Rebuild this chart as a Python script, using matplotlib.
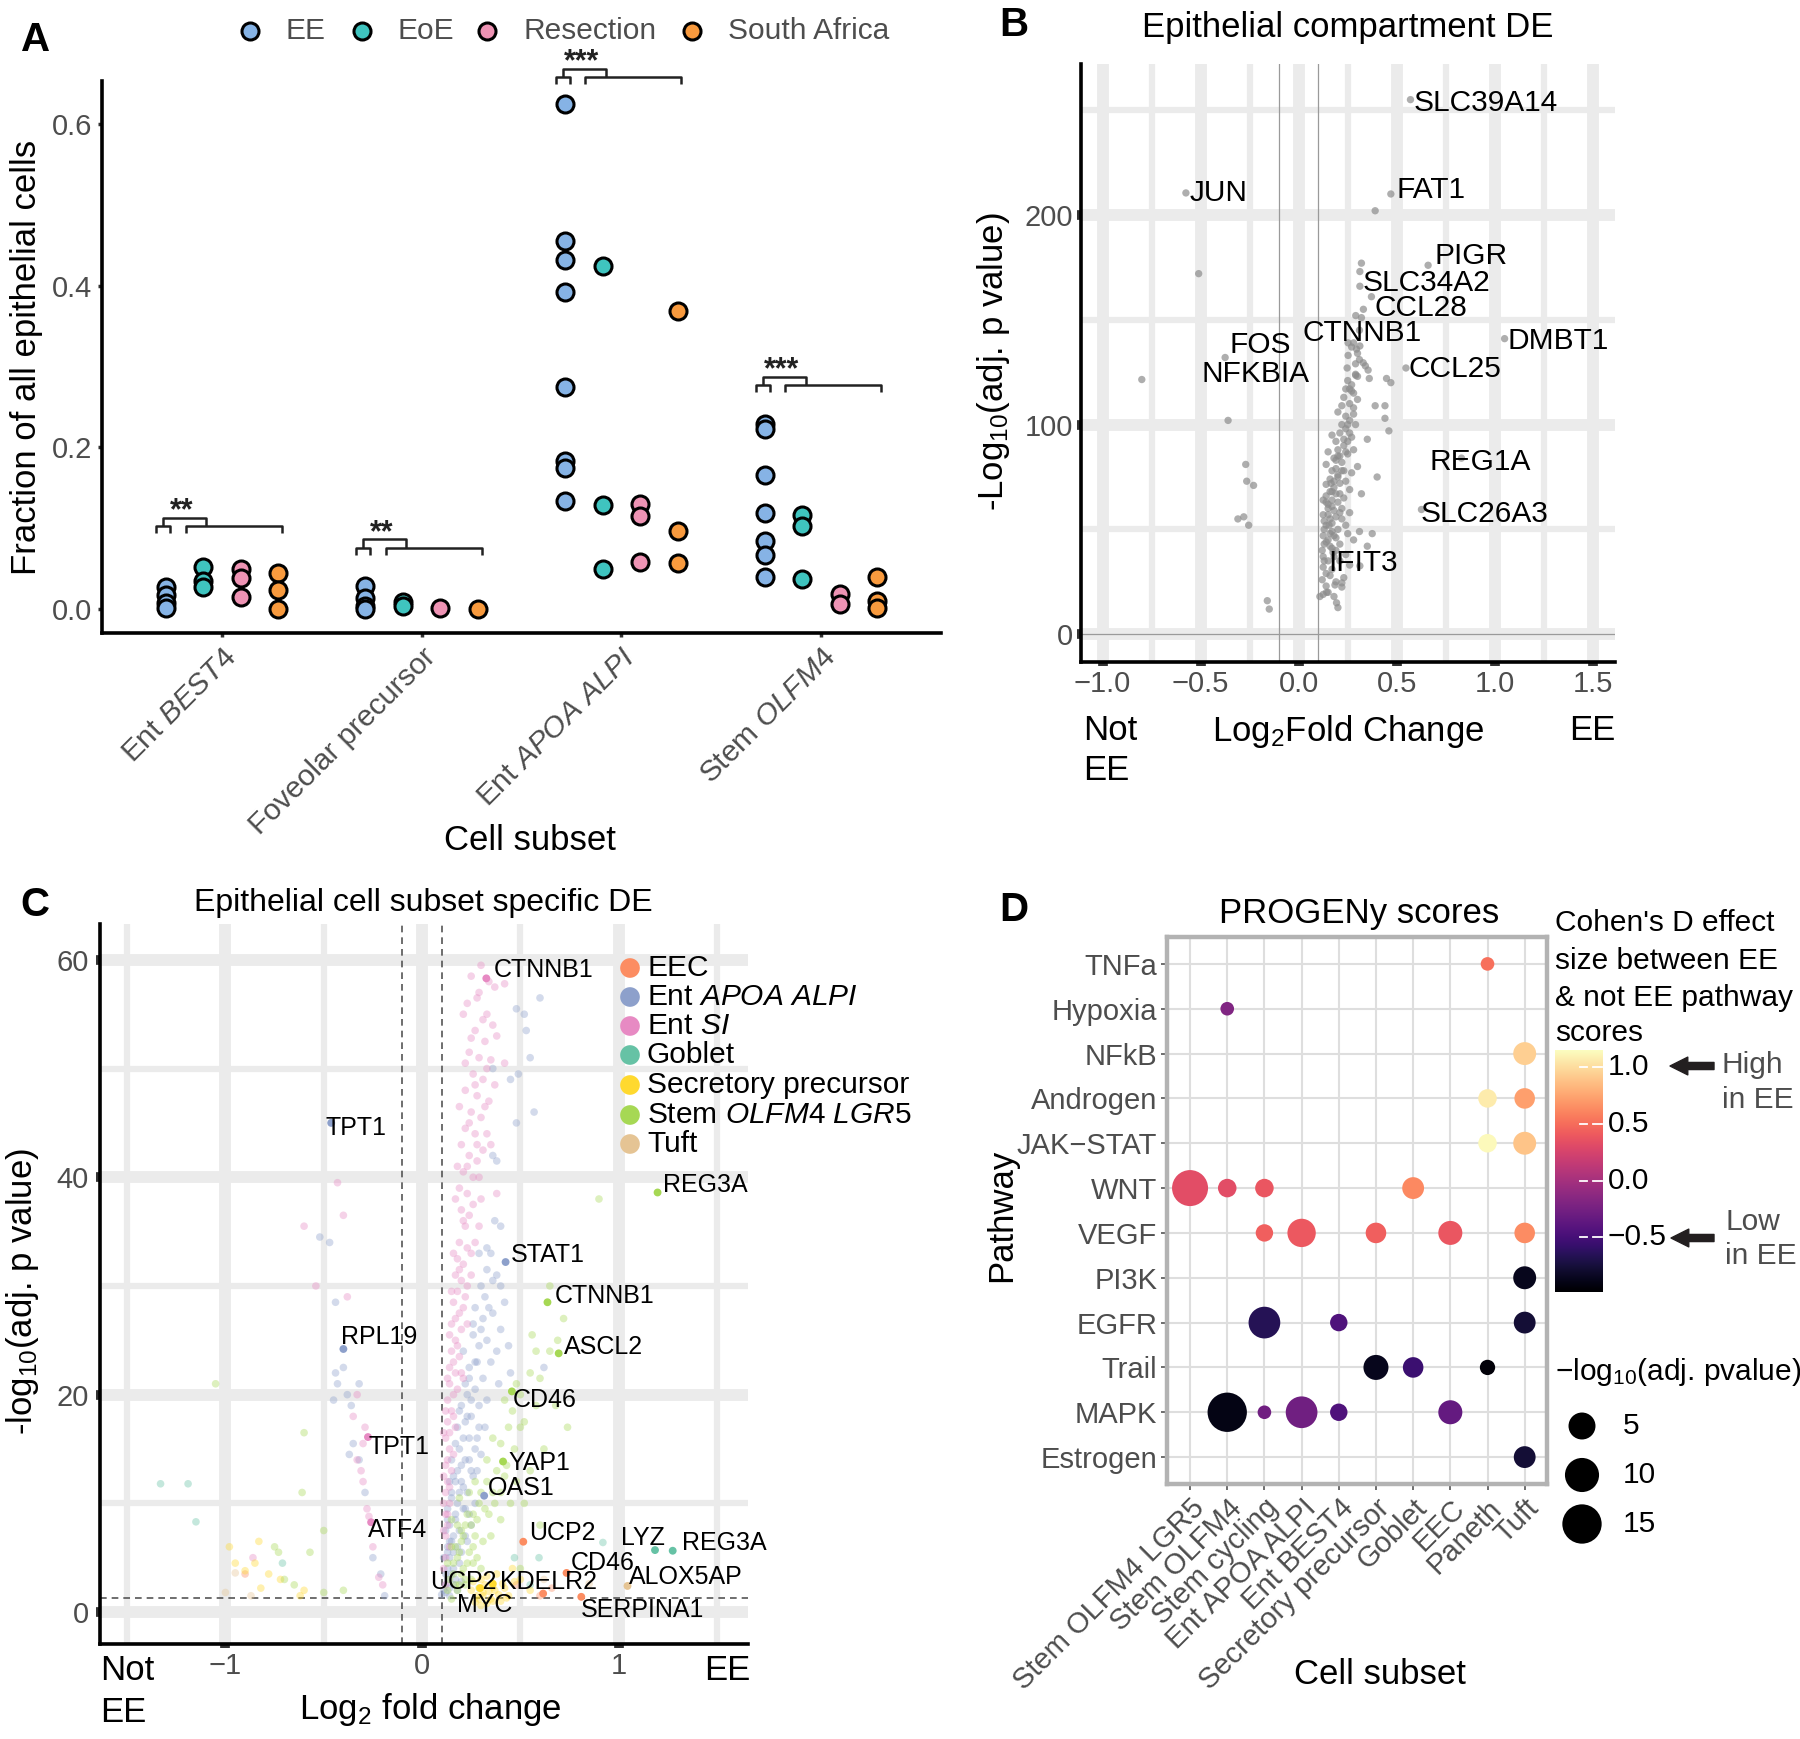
import numpy as np
import matplotlib
matplotlib.use('Agg')
import matplotlib.pyplot as plt
from matplotlib import colors as mcolors

plt.rcParams['font.family'] = ['Liberation Sans', 'DejaVu Sans']
plt.rcParams['mathtext.fontset'] = 'custom'
plt.rcParams['mathtext.rm'] = 'Liberation Sans'
plt.rcParams['mathtext.it'] = 'Liberation Sans:italic'
plt.rcParams['mathtext.bf'] = 'Liberation Sans:bold'
plt.rcParams['mathtext.sf'] = 'Liberation Sans'

# ---------------------------------------------------------------- data A
a_subset_labels = ['Ent $\\mathit{BEST4}$', 'Foveolar precursor',
                   'Ent $\\mathit{APOA\\ ALPI}$', 'Stem $\\mathit{OLFM4}$']
a_groups = ['EE', 'EoE', 'Resection', 'South Africa']
a_colors = ['#86B3E5', '#3FC4BF', '#EE93B4', '#F89A3E']
a_ee = [[0.027, 0.017, 0.008, 0.001], [0.029, 0.013, 0.004, 0.0],
        [0.624, 0.455, 0.432, 0.392, 0.275, 0.183, 0.174, 0.133],
        [0.229, 0.223, 0.166, 0.119, 0.084, 0.067, 0.039]]
a_eoe = [[0.052, 0.035, 0.027], [0.009, 0.004], [0.424, 0.129, 0.049], [0.116, 0.103, 0.037]]
a_res = [[0.050, 0.038, 0.015], [0.001], [0.130, 0.115, 0.058], [0.019, 0.006]]
a_sa = [[0.045, 0.023, 0.0], [0.0], [0.368, 0.097, 0.057], [0.039, 0.010, 0.001]]
a_sig = ['**', '**', '***', '***']
a_sig_y = [0.1026, 0.0758, 0.658, 0.277]

# ---------------------------------------------------------------- data B
b_x = [0.57, 0.47, 0.39, -0.575, -0.51, 0.66, 0.32, 0.312, 0.312, 0.371, 0.291, 0.32,
       1.05, -0.375, -0.80, 0.547, 0.83, 0.626, -0.36, -0.27, -0.265, -0.23, -0.31,
       -0.28, -0.255, -0.16, -0.15, 0.252, 0.295, 0.312, 0.252, 0.329, 0.354, 0.247,
       0.291, 0.448, 0.26, 0.34, 0.30, 0.36, 0.47, 0.24, 0.28, 0.22, 0.28, 0.39, 0.44,
       0.44, 0.46, 0.20, 0.22, 0.25, 0.29, 0.35, 0.17, 0.19, 0.15, 0.18, 0.24, 0.30,
       0.40, 0.14, 0.17, 0.20, 0.24, 0.14, 0.17, 0.21, 0.26, 0.32, 0.125, 0.15, 0.18,
       0.22, 0.26, 0.125, 0.14, 0.17, 0.19, 0.25, 0.31, 0.375, 0.125, 0.13, 0.17, 0.21,
       0.28, 0.35, 0.125, 0.15, 0.18, 0.24, 0.125, 0.14, 0.17, 0.312, 0.19, 0.125, 0.15,
       0.22, 0.20, 0.16, 0.19, 0.20, 0.23, 0.18, 0.21, 0.16, 0.19, 0.22, 0.20, 0.23,
       0.25, 0.21, 0.24, 0.26, 0.23, 0.27, 0.25, 0.29, 0.30, 0.27, 0.31, 0.33, 0.28,
       0.26, 0.28, 0.27, 0.15, 0.14, 0.13, 0.15, 0.17, 0.20, 0.22, 0.24, 0.19, 0.21,
       0.16, 0.14, 0.18, 0.23, 0.26, 0.12, 0.13, 0.12, 0.108, 0.142, 0.185, 0.22, 0.193,
       0.16, 0.18, 0.21, 0.17, 0.19, 0.155, 0.165, 0.2, 0.23, 0.175,
       0.14, 0.16, 0.13, 0.15, 0.17, 0.14, 0.16, 0.18, 0.2, 0.22, 0.19, 0.21, 0.23,
       0.25, 0.27, 0.24, 0.26, 0.28, 0.3, 0.27, 0.29, 0.31]
b_y = [255, 210, 202, 210.5, 172, 176, 177, 173, 166, 161, 152, 151,
       141, 132, 121.5, 127, 84, 59.5, 102, 81, 73, 71, 55,
       56, 52, 16, 12, 139, 136, 137.5, 133, 129.5, 126, 127,
       123.5, 122, 117, 128, 123, 122, 120, 117, 115, 109, 108, 109, 109,
       103, 97, 106, 100, 100, 100, 93, 95, 92, 87, 84, 87, 80,
       75, 81, 78, 75, 73, 71.5, 68, 67, 69, 67, 64, 62, 59,
       60, 58, 57, 52, 49, 46, 48, 49, 48, 47, 43, 41, 43,
       45, 42, 37, 35, 37, 38, 32, 29, 31, 32.6, 25, 19, 20,
       22.5, 12.7, 55, 56, 63, 65, 70, 72, 74, 79, 82, 88, 90,
       92, 96, 104, 110, 113, 119, 121, 129, 134, 137, 145, 155, 139,
       96, 88, 77, 60, 66, 50, 45, 53, 50, 55, 52, 40, 35,
       28, 23, 18, 27, 33, 40, 35, 26, 18, 20, 23.5, 24.5, 15,
       42, 47, 58, 64, 67, 52, 72, 85, 78, 39,
       44, 48, 54, 57, 61, 63, 68, 73, 76, 78, 83, 85, 93,
       86, 94, 98, 102, 105, 112, 116, 124, 131]
b_lab = ['SLC39A14', 'FAT1', 'JUN', 'PIGR', 'SLC34A2', 'CCL28', 'CTNNB1', 'DMBT1',
         'FOS', 'NFKBIA', 'CCL25', 'REG1A', 'SLC26A3', 'IFIT3']
b_lab_x = [0.57, 0.47, -0.575, 0.66, 0.312, 0.371, 0.291, 1.05, -0.375, -0.80, 0.547, 0.83, 0.626, 0.312]
b_lab_y = [255, 210, 210.5, 176, 166, 161, 152, 141, 132, 121.5, 127, 84, 59.5, 32.6]
b_lab_off = [(3, -3), (6, 4), (4, 0), (6, 9), (3, 3), (3, -11), (-53, -17), (3, -2),
             (4, 13), (60, 6), (3, -1), (-32, -4), (-1, -4), (-32, 3)]

# ---------------------------------------------------------------- data C
c_groups = ['EEC', 'Ent APOA ALPI', 'Ent SI', 'Goblet', 'Secretory precursor', 'Stem OLFM4 LGR5', 'Tuft']
c_group_labels = ['EEC', 'Ent $\\mathit{APOA\\ ALPI}$', 'Ent $\\mathit{SI}$', 'Goblet',
                  'Secretory precursor', 'Stem $\\mathit{OLFM4\\ LGR5}$', 'Tuft']
c_colors = ['#FC8D62', '#8DA0CB', '#E78AC3', '#66C2A5', '#FFD92F', '#A6D854', '#E5C494']
c_eec_x = [-0.9, 0.6, 0.48, 0.66]
c_eec_y = [3.5, 1.5, 2.5, 2.2]
c_apoa_x = [0.52, 0.53, 0.6, 0.45, 0.57, 0.48, 0.36, 0.38, 0.4, 0.35, 0.38, 0.4, 0.42, 0.36,
            0.3, 0.33, 0.38, 0.45, 0.62, 0.28, 0.31, 0.27, 0.33, 0.25, 0.29, 0.24, 0.27, 0.22,
            0.25, 0.2, 0.23, 0.18, 0.21, 0.17, 0.19, 0.15, 0.18, 0.14, 0.16, 0.13, 0.16, 0.22,
            0.24, 0.26, 0.3, 0.29, 0.23, 0.35, 0.32, 0.37,
            0.11, 0.12, 0.11, 0.13, 0.12, 0.14, 0.13, 0.15, 0.14, 0.16, 0.15, 0.17, 0.18, 0.19,
            0.2, 0.22, 0.24, 0.21, 0.26, 0.27, 0.3, 0.33, 0.29, 0.1, 0.12, 0.14, 0.17, 0.19,
            0.2, 0.23, 0.25, 0.27, 0.21, 0.18, 0.24, 0.28, 0.22,
            0.13, 0.14, 0.16, 0.13, 0.17, 0.15, 0.19, 0.17, 0.2, 0.19, 0.21, 0.23, 0.25, 0.24,
            0.27, 0.29, 0.26, 0.31, 0.34, 0.33, 0.36, 0.4, 0.44, 0.39, 0.32, 0.28, 0.22, 0.12,
            0.15, 0.18, 0.14, 0.2, 0.13, 0.16, 0.49, 0.55, 0.36, 0.48,
            -0.52, -0.47, -0.44, -0.44, -0.43, -0.4, -0.45, -0.38, -0.36, -0.32, -0.37, -0.35,
            -0.32, -0.29, -0.25, -0.21, -0.19]
c_apoa_y = [55, 53.5, 56.5, 49, 46, 45, 42, 41.5, 35.5, 33, 31, 30, 28.5, 27.5,
            26, 25, 24, 22, 22.5, 23, 21.5, 20.5, 19.5, 18, 17, 16, 15, 14,
            13, 12, 11, 10, 9.5, 8.5, 7.5, 6.5, 6, 5, 4, 3, 2.5, 7,
            9, 12.5, 14.5, 19, 20, 23, 29, 36,
            2, 3.5, 5, 6, 7.5, 8, 9.5, 10.5, 12, 12.5, 14, 15.5, 17, 18.5,
            19, 21, 22.5, 24, 25.5, 28, 30, 31.5, 33, 1.6, 1.8, 2.2, 3, 4.5,
            5.5, 6.5, 8, 10, 11.5, 13, 14, 16, 17.5,
            4, 6.5, 7, 8.5, 9, 11, 11, 12, 13.5, 15, 16, 18, 19.5, 21.5,
            23, 24.5, 26.5, 27, 28, 33.5, 30.5, 26, 24.5, 21, 17, 13, 9.5, 2.5,
            3.5, 2, 1.5, 2.8, 5.5, 5.5, 49.5, 51, 50, 55.5,
            34.5, 34, 28.5, 22, 21, 22.5, 19.5, 20, 19, 21, 14.5, 15.5,
            14, 11, 5, 3.5, 1.5]
c_si_x = [0.3, 0.37, 0.42, 0.23, 0.28, 0.33, 0.36, 0.27, 0.32, 0.24, 0.29, 0.35, 0.42, 0.26,
          0.31, 0.22, 0.28, 0.34, 0.37, 0.25, 0.3, 0.22, 0.27, 0.33, 0.2, 0.24, 0.28, 0.31,
          0.21, 0.26, 0.19, 0.23, 0.3, 0.38, 0.2, 0.24, 0.22, 0.19, 0.23, 0.27, 0.18, 0.21,
          0.17, 0.2, 0.25, 0.18, 0.22, 0.16, 0.19, 0.15, 0.2, 0.17, 0.15, 0.19, 0.14, 0.17,
          0.21, 0.14, 0.16, 0.13, 0.15, 0.13, 0.17, 0.12, 0.14, 0.16, 0.12, 0.15, 0.13, 0.12,
          0.14, 0.12, 0.13, 0.12, 0.14,
          0.25, 0.34, 0.29, 0.21, 0.31, 0.38, 0.25, 0.22, 0.33, 0.27, 0.19, 0.32, 0.24, 0.28,
          0.35, 0.18, 0.23, 0.29, 0.17, 0.26, 0.21, 0.29, 0.16, 0.25, 0.19, 0.23, 0.15, 0.21,
          0.17, 0.23, 0.14, 0.18, 0.16, 0.2, 0.13, 0.18, 0.12, 0.16, 0.11, 0.14, 0.13, 0.11,
          0.14, 0.11, 0.13, 0.11, 0.12, 0.11, 0.12,
          -0.6, -0.43, -0.4, -0.38, -0.54, -0.33, -0.35, -0.3, -0.33, -0.31, -0.3, -0.28,
          -0.27, -0.25, -0.22, -0.2, -0.86, -0.29]
c_si_y = [59.5, 57.5, 57.8, 56, 56.5, 55, 54, 53.5, 52.5, 51.5, 51, 50.8, 50.5, 49.5,
          49, 48, 47.5, 47, 48.5, 46, 45.5, 44.5, 44, 44, 43, 42, 41.5, 42.5,
          40.5, 40, 39, 38.5, 38, 38.5, 37, 36.5, 35.5, 34, 33.5, 34, 32.5, 32,
          31, 30.5, 31, 29.5, 29, 28.5, 27.5, 26.5, 26, 25, 24, 23.5, 22.5, 22,
          21.5, 21, 20, 19.5, 18.5, 17.5, 17, 16, 15, 14.5, 13.5, 13, 12, 11,
          10, 9, 8, 7, 6,
          58.5, 58, 57, 55, 54.5, 53, 52.8, 50.5, 50, 48.5, 46.5, 46.5, 45, 43,
          43, 41, 41, 40, 38, 37.5, 36, 35.5, 33, 33, 31.5, 30, 29.5, 28,
          27, 26.5, 25.5, 24.5, 23, 22, 21.5, 20.5, 18.5, 18, 16.5, 16.5, 14, 12.5,
          11.5, 10, 9, 7.5, 5, 4, 2.5,
          35.5, 39.5, 36.5, 29, 30, 20, 18, 15.5, 14, 13, 12, 9.5,
          8.8, 6, 3.2, 2.5, 5, 17]
c_gob_x = [-1.33, -1.19, -1.15, -0.71, 0.47, 0.595, 0.92, 0.55]
c_gob_y = [11.8, 11.8, 8.3, 4.5, 5.0, 5.0, 6.4, 2.5]
c_sec_x = [-0.98, -0.83, -0.85, -0.9, -0.78, -0.72, -0.82, -0.6, -0.62, -0.95, 0.25, 0.28,
           0.32, 0.35, 0.3, 0.38, 0.42, 0.46, 0.5, 0.55, 0.27, 0.33, 0.4, 0.37, 0.44, 0.31,
           0.29, 0.31, 0.34, 0.36, 0.39, 0.41, 0.43, 0.47, 0.26, 0.33, 0.36, 0.3]
c_sec_y = [6, 6.5, 4.5, 3.8, 3.5, 3, 2.2, 2, 1.5, 4.5, 2, 1.5,
           2.5, 1.2, 3, 3.5, 2.2, 4, 3, 2, 0.9, 0.8, 1.0, 2.0, 1.5, 1.8,
           1.2, 1.5, 1.9, 2.3, 1.6, 2.6, 1.3, 2.8, 2.8, 3.3, 1.0, 0.6]
c_stem_x = [0.9, 0.65, 0.72, 0.69, 0.58, 0.55, 0.6, 0.48, 0.5, 0.42, 0.46, 0.52, 0.68, 0.74,
            0.44, 0.4, 0.47, 0.38, 0.42, 0.33, 0.36, 0.29, 0.32, 0.26, 0.22, 0.27, 0.2, 0.24,
            0.18, 0.21, 0.16, 0.19, 0.13, 0.15, 0.25, 0.3, 0.35, 0.4, 0.45, 0.55, 0.5, 0.6,
            0.17, 0.2, 0.23, 0.28, 0.31, 0.19, 0.22, 0.26, 0.15, 0.18, 0.24,
            0.17, 0.2, 0.22, 0.14, 0.16, 0.19, 0.23, 0.26, 0.21, 0.18, 0.25, 0.28, 0.3, 0.34,
            0.37, 0.27, 0.33, 0.4, 0.43, 0.48, 0.52, 0.36, 0.5, 0.58, 0.62, 0.56, 0.65, 0.15,
            0.13, 0.29,
            -1.05, -0.6, -0.61, -0.5, -0.57, -0.73, -0.75, -0.7, -0.4, -0.5, -0.65]
c_stem_y = [38, 30, 27, 25, 24, 22, 21.5, 21, 20, 19.5, 18.5, 17.5, 19, 17,
            17, 15.5, 15, 13, 12.5, 12, 11, 10, 9.5, 9, 8, 7, 6.5, 5.5,
            5, 4, 3.5, 2.5, 2, 1.2, 3, 4, 7, 8.5, 10, 13, 4, 8,
            6, 7.5, 9, 5, 6.5, 10.5, 3, 4.5, 8.5, 2, 11,
            2.5, 3.5, 2.5, 3, 4.5, 5.5, 4.5, 6, 7, 8, 8, 8.5, 11, 9,
            10, 12, 14, 11, 13.5, 12, 10, 16, 17, 19, 15, 25.5, 24, 6,
            4.5, 2.2,
            21, 16.5, 11, 7.5, 5.5, 5.5, 6, 3, 2, 1.8, 2.5]
c_tuft_x = [-0.95, -1.0, -0.87, 0.85, 0.62]
c_tuft_y = [3.6, 1.8, 1.5, 2.6, 3.0]
c_lab = ['CTNNB1', 'TPT1', 'REG3A', 'STAT1', 'CTNNB1', 'RPL19', 'ASCL2', 'CD46', 'TPT1',
         'YAP1', 'OAS1', 'ATF4', 'UCP2', 'LYZ', 'REG3A', 'CD46', 'ALOX5AP', 'UCP2',
         'KDELR2', 'MYC', 'SERPINA1']
c_lab_grp = [2, 1, 5, 1, 5, 1, 5, 5, 2, 5, 1, 2, 0, 3, 3, 0, 6, 4, 0, 4, 0]
c_lab_x = [0.327, -0.462, 1.198, 0.425, 0.638, -0.40, 0.695, 0.457, -0.275, 0.412, 0.316,
           -0.259, 0.515, 1.185, 1.275, 0.735, 1.045, 0.36, 0.616, 0.295, 0.81]
c_lab_y = [58.3, 45.0, 38.6, 32.2, 28.5, 24.2, 23.8, 20.3, 16.1, 13.85, 10.7, 8.26, 6.47,
           5.7, 5.64, 3.6, 2.4, 2.6, 1.7, 2.2, 1.4]
c_lab_off = [(7, 8), (-6, -5), (5, 7), (5, 7), (7, 6), (-2, 12), (5, 6), (1, -9), (1, -10),
             (5, -1), (4, 8), (-3, -8), (6, 9), (-34, 12), (9, 8), (4, 10), (1, 9), (-63, 2),
             (-43, 12), (-23, -17), (0, -13)]

# ---------------------------------------------------------------- data D
d_rows = ['TNFa', 'Hypoxia', 'NFkB', 'Androgen', 'JAK\u2212STAT', 'WNT', 'VEGF', 'PI3K',
          'EGFR', 'Trail', 'MAPK', 'Estrogen']
d_cols = ['Stem OLFM4 LGR5', 'Stem OLFM4', 'Stem cycling', 'Ent APOA ALPI', 'Ent BEST4',
          'Secretory precursor', 'Goblet', 'EEC', 'Paneth', 'Tuft']
d_path = ['TNFa', 'Hypoxia', 'NFkB', 'Androgen', 'Androgen', 'JAK\u2212STAT', 'JAK\u2212STAT',
          'WNT', 'WNT', 'WNT', 'WNT', 'VEGF', 'VEGF', 'VEGF', 'VEGF', 'VEGF', 'PI3K',
          'EGFR', 'EGFR', 'EGFR', 'Trail', 'Trail', 'Trail', 'MAPK', 'MAPK', 'MAPK', 'MAPK',
          'MAPK', 'Estrogen']
d_cell = ['Paneth', 'Stem OLFM4', 'Tuft', 'Paneth', 'Tuft', 'Paneth', 'Tuft',
          'Stem OLFM4 LGR5', 'Stem OLFM4', 'Stem cycling', 'Goblet', 'Stem cycling',
          'Ent APOA ALPI', 'Secretory precursor', 'EEC', 'Tuft', 'Tuft',
          'Stem cycling', 'Ent BEST4', 'Tuft', 'Secretory precursor', 'Goblet', 'Paneth',
          'Stem OLFM4', 'Stem cycling', 'Ent APOA ALPI', 'Ent BEST4', 'EEC', 'Tuft']
d_effect = [0.51, -0.19, 0.94, 1.06, 0.72, 1.13, 0.89, 0.32, 0.32, 0.38, 0.62, 0.43, 0.40,
            0.43, 0.38, 0.64, -0.87, -0.66, -0.45, -0.77, -0.87, -0.55, -0.94, -0.9, -0.28,
            -0.28, -0.45, -0.34, -0.77]
d_logp = [1.3, 1.3, 3.1, 1.8, 2.3, 1.8, 3.1, 11.7, 1.8, 1.8, 2.7, 1.6, 5.8, 2.3, 3.55, 2.3,
          3.1, 8.1, 1.6, 2.7, 4.0, 2.3, 1.36, 15.0, 1.3, 8.1, 1.6, 3.55, 2.7]
d_size_breaks = [5, 10, 15]
d_cbar_ticks = [1.0, 0.5, 0.0, -0.5]

# ================================================================= figure
W, H = 1800, 1739
fig = plt.figure(figsize=(W / 100, H / 100), dpi=100)
TXT = '#4D4D4D'


def rect(l, t, r, b):
    return [l / W, 1 - b / H, (r - l) / W, (b - t) / H]


def style_axes(ax, lw=2.6):
    for s in ['top', 'right']:
        ax.spines[s].set_visible(False)
    for s in ['left', 'bottom']:
        ax.spines[s].set_linewidth(lw)
        ax.spines[s].set_color('black')


# ---------------------------------------------------------------- panel A
ax_a = fig.add_axes(rect(102, 81, 941, 633))
style_axes(ax_a)
ax_a.set_xlim(0.4, 4.6)
ax_a.set_ylim(-0.0297, 0.653)
offs = [-0.281, -0.094, 0.094, 0.281]
for gi, vals in enumerate([a_ee, a_eoe, a_res, a_sa]):
    for si, v in enumerate(vals):
        ax_a.scatter(np.full(len(v), si + 1 + offs[gi]), v, s=150, c=a_colors[gi],
                     edgecolors='black', linewidths=2.2, zorder=3, clip_on=False)
for si in range(4):
    c = si + 1
    yb = a_sig_y[si]
    tk = 0.009
    yt = yb + 0.0103
    kw = dict(color='#222222', lw=1.8, clip_on=False, solid_capstyle='butt')
    ax_a.plot([c - 0.328, c - 0.328, c - 0.258, c - 0.258], [yb - tk, yb, yb, yb - tk], **kw)
    ax_a.plot([c - 0.18, c - 0.18, c + 0.30, c + 0.30], [yb - tk, yb, yb, yb - tk], **kw)
    ax_a.plot([c - 0.293, c - 0.293, c - 0.078, c - 0.078], [yb, yt, yt, yb], **kw)
    ax_a.text(c - 0.2, yb + 0.0085, a_sig[si], ha='center', va='baseline', fontsize=22,
              fontweight='bold', color='#222222', clip_on=False)
ax_a.set_yticks([0, 0.2, 0.4, 0.6])
ax_a.set_yticklabels(['0.0', '0.2', '0.4', '0.6'], fontsize=21, color=TXT)
ax_a.set_xticks([1, 2, 3, 4])
ax_a.set_xticklabels(a_subset_labels, rotation=45, ha='right', va='top',
                     rotation_mode='anchor', fontsize=21.5, color=TXT)
ax_a.tick_params(axis='both', length=3, width=2.5, color='#333333', pad=4)

# ---------------------------------------------------------------- panel B
ax_b = fig.add_axes(rect(1081, 64, 1615, 661.5))
style_axes(ax_b)
ax_b.set_xlim(-1.11, 1.613)
ax_b.set_ylim(-13, 272)
GRID = '#EBEBEB'
for v in [-1, -0.5, 0, 0.5, 1, 1.5]:
    ax_b.axvline(v, color=GRID, lw=8.5, zorder=0)
for v in [-0.75, -0.25, 0.25, 0.75, 1.25]:
    ax_b.axvline(v, color=GRID, lw=4.5, zorder=0)
for v in [0, 100, 200]:
    ax_b.axhline(v, color=GRID, lw=8.5, zorder=0)
for v in [50, 150, 250]:
    ax_b.axhline(v, color=GRID, lw=4.5, zorder=0)
ax_b.axvline(-0.1, color='#9A9A9A', lw=0.9, zorder=1)
ax_b.axvline(0.1, color='#9A9A9A', lw=0.9, zorder=1)
ax_b.axhline(0, color='#9A9A9A', lw=0.9, zorder=1)
ax_b.scatter(b_x, b_y, s=28, c='#8C8C8C', alpha=0.7, edgecolors='none', zorder=2)
for name, x, y, off in zip(b_lab, b_lab_x, b_lab_y, b_lab_off):
    ax_b.annotate(name, (x, y), xytext=off, textcoords='offset pixels', ha='left',
                  va='center', fontsize=21.5, color='black', zorder=4)
ax_b.set_xticks([-1, -0.5, 0, 0.5, 1, 1.5])
ax_b.set_xticklabels(['\u22121.0', '\u22120.5', '0.0', '0.5', '1.0', '1.5'], fontsize=21, color=TXT)
ax_b.set_yticks([0, 100, 200])
ax_b.set_yticklabels(['0', '100', '200'], fontsize=21, color=TXT)
ax_b.tick_params(axis='both', length=3, width=7, color='#333333', pad=3)

# ---------------------------------------------------------------- panel C
ax_c = fig.add_axes(rect(100, 924, 748, 1644))
style_axes(ax_c)
ax_c.set_xlim(-1.638, 1.658)
ax_c.set_ylim(-2.94, 63.3)
for v in [-1, 0, 1]:
    ax_c.axvline(v, color=GRID, lw=8.5, zorder=0)
for v in [-1.5, -0.5, 0.5, 1.5]:
    ax_c.axvline(v, color=GRID, lw=4.5, zorder=0)
for v in [0, 20, 40, 60]:
    ax_c.axhline(v, color=GRID, lw=8.5, zorder=0)
for v in [10, 30, 50]:
    ax_c.axhline(v, color=GRID, lw=4.5, zorder=0)
dkw = dict(color='#555555', lw=1.2, dashes=(4, 3), zorder=1)
ax_c.axvline(-0.1, **dkw)
ax_c.axvline(0.1, **dkw)
ax_c.axhline(-np.log10(0.05), **dkw)
c_xs = [c_eec_x, c_apoa_x, c_si_x, c_gob_x, c_sec_x, c_stem_x, c_tuft_x]
c_ys = [c_eec_y, c_apoa_y, c_si_y, c_gob_y, c_sec_y, c_stem_y, c_tuft_y]
for gi in range(7):
    ax_c.scatter(c_xs[gi], c_ys[gi], s=30, c=c_colors[gi], alpha=0.38, edgecolors='none', zorder=2)
for name, g, x, y, off in zip(c_lab, c_lab_grp, c_lab_x, c_lab_y, c_lab_off):
    ax_c.scatter([x], [y], s=32, c=c_colors[g], edgecolors='none', zorder=3)
    ax_c.annotate(name, (x, y), xytext=off, textcoords='offset pixels', ha='left',
                  va='center', fontsize=18, color='black', zorder=4)
ax_c.set_xticks([-1, 0, 1])
ax_c.set_xticklabels(['\u22121', '0', '1'], fontsize=21, color=TXT)
ax_c.set_yticks([0, 20, 40, 60])
ax_c.set_yticklabels(['0', '20', '40', '60'], fontsize=21, color=TXT)
ax_c.tick_params(axis='both', length=3, width=7, color='#333333', pad=3)
ax_c.tick_params(axis='y', pad=5)

# ---------------------------------------------------------------- panel D
ax_d = fig.add_axes(rect(1167, 937, 1547, 1484))
ax_d.set_xlim(0.38, 10.6)
ax_d.set_ylim(12.6, 0.4)
for s in ax_d.spines.values():
    s.set_color('#B3B3B3')
    s.set_linewidth(3.2)
for i in range(1, 13):
    ax_d.axhline(i, color='#DEDEDE', lw=1.5, zorder=0)
for i in range(1, 11):
    ax_d.axvline(i, color='#DEDEDE', lw=1.5, zorder=0)
VMIN, VMAX = -0.98, 1.15
cmap = plt.get_cmap('magma')
norm = mcolors.Normalize(VMIN, VMAX)


def dot_size(v):
    v = np.asarray(v, dtype=float)
    d = 9.8 + 20 * np.sqrt(np.clip((v - 1.3) / 16.0, 0, 1))
    return d ** 2


dx = [d_cols.index(c) + 1 for c in d_cell]
dy = [d_rows.index(p) + 1 for p in d_path]
ax_d.scatter(dx, dy, s=dot_size(d_logp), c=d_effect, cmap=cmap, norm=norm,
             edgecolors='none', zorder=3)
ax_d.set_yticks(range(1, 13))
ax_d.set_yticklabels(d_rows, fontsize=21, color=TXT)
ax_d.set_xticks(range(1, 11))
ax_d.set_xticklabels(d_cols, rotation=45, ha='right', va='top', rotation_mode='anchor',
                     fontsize=21, color=TXT)
ax_d.tick_params(axis='both', length=4, width=1.2, color='#555555', pad=3)

# colorbar
cax = fig.add_axes(rect(1555, 1050, 1603, 1292))
grad = np.linspace(VMIN, VMAX, 256).reshape(-1, 1)
cax.imshow(grad, cmap=cmap, norm=norm, aspect='auto', origin='lower',
           extent=[0, 1, VMIN, VMAX])
cax.set_xlim(0, 1)
cax.set_ylim(VMIN, VMAX)
cax.axis('off')
for t in d_cbar_ticks:
    cax.plot([0.52, 0.66], [t, t], color='white', lw=1.3)
    cax.plot([0.79, 0.98], [t, t], color='white', lw=1.3)
    cax.text(1.1, t, ('\u2212' if t < 0 else '') + '%.1f' % abs(t), transform=cax.transData,
             ha='left', va='center', fontsize=21.5, color='black', clip_on=False)

# ---------------------------------------------------------------- overlay
ov = fig.add_axes([0, 0, 1, 1], zorder=20)
ov.set_xlim(0, W)
ov.set_ylim(H, 0)
ov.axis('off')


def T(x, y, s, **kw):
    kw.setdefault('fontsize', 21.5)
    kw.setdefault('va', 'center')
    kw.setdefault('color', 'black')
    ov.text(x, y, s, **kw)


# panel letters
for let, x, y in [('A', 21, 40), ('B', 999, 25), ('C', 20, 905), ('D', 999, 910)]:
    T(x, y, let, fontsize=29, fontweight='bold', ha='left')

# A legend + labels
leg_mx = [250, 362, 487, 692]
for i, g in enumerate(a_groups):
    ov.scatter([leg_mx[i]], [31], s=150, c=a_colors[i], edgecolors='black', linewidths=2.2,
               clip_on=False)
    T(leg_mx[i] + 36, 31, g, ha='left', color=TXT)
T(27, 357, 'Fraction of all epithelial cells', fontsize=25, rotation=90, ha='center')
T(530, 841, 'Cell subset', fontsize=25, ha='center')

# B labels
T(1348, 28, 'Epithelial compartment DE', fontsize=25, ha='center')
T(993, 362, '-Log$_{10}$(adj. p value)', fontsize=25, rotation=90, ha='center')
T(1083, 731, 'Not', fontsize=25, ha='left')
T(1083, 770, 'EE', fontsize=25, ha='left')
T(1348, 731, 'Log$_2$Fold Change', fontsize=25, ha='center')
T(1615, 731, 'EE', fontsize=25, ha='right')

# C labels
T(423, 903, 'Epithelial cell subset specific DE', fontsize=23, ha='center')
T(23, 1291, '-log$_{10}$(adj. p value)', fontsize=25, rotation=90, ha='center')
T(100, 1671, 'Not', fontsize=25, ha='left')
T(100, 1713, 'EE', fontsize=25, ha='left')
T(430, 1710, 'Log$_2$ fold change', fontsize=25, ha='center')
T(750, 1671, 'EE', fontsize=25, ha='right')
leg_cy = [968, 997, 1026, 1055, 1085, 1115, 1144]
for i in range(7):
    ov.scatter([630], [leg_cy[i]], s=200, c=c_colors[i], edgecolors='none')
    T(647, leg_cy[i], c_group_labels[i], ha='left')

# D labels
T(1359, 914, 'PROGENy scores', fontsize=25, ha='center')
T(1002, 1215, 'Pathway', fontsize=25, rotation=90, ha='center')
T(1380, 1674, 'Cell subset', fontsize=25, ha='center')
for y, s in zip([923, 961, 998, 1033],
                ["Cohen's D effect", 'size between EE', '& not EE pathway', 'scores']):
    T(1555, y, s, ha='left')
akw = dict(arrowstyle='simple,head_length=0.8,head_width=0.8,tail_width=0.32',
           color='#231F20', shrinkA=0, shrinkB=0, mutation_scale=16)
ov.annotate('', xy=(1670, 1066), xytext=(1714, 1066), arrowprops=akw)
ov.annotate('', xy=(1671, 1238), xytext=(1714, 1238), arrowprops=akw)
T(1722, 1065, 'High', ha='left', color=TXT)
T(1722, 1100, 'in EE', ha='left', color=TXT)
T(1725, 1222, 'Low', ha='left', color=TXT)
T(1725, 1256, 'in EE', ha='left', color=TXT)
T(1555, 1372, '\u2212log$_{10}$(adj. pvalue)', ha='left')
for yy, v in zip([1426, 1475, 1524], d_size_breaks):
    ov.scatter([1582], [yy], s=dot_size(v), c='black', edgecolors='none')
    T(1623, yy, str(v), ha='left')

fig.savefig('out.png', dpi=100)
